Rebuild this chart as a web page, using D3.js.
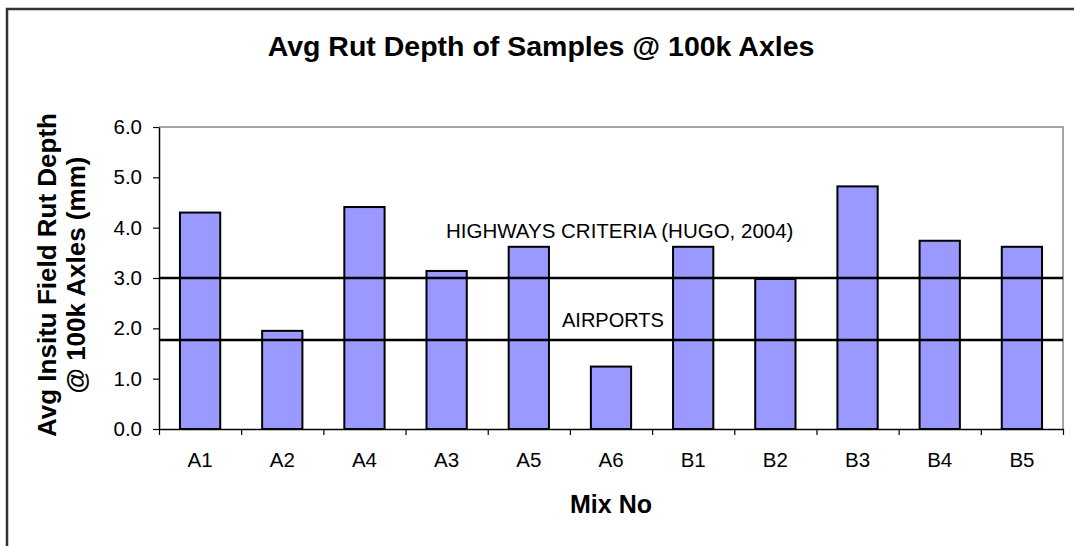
<!DOCTYPE html>
<html>
<head>
<meta charset="utf-8">
<script src="https://cdn.jsdelivr.net/npm/d3@7"></script>
<style>
  body { margin: 0; background: #fff; }
  svg { display: block; font-family: Arial, "Liberation Sans", sans-serif; }
</style>
</head>
<body>
<svg width="1074" height="546"></svg>
<script>
let categories = ["A1", "A2", "A4", "A3", "A5", "A6", "B1", "B2", "B3", "B4", "B5"];
let rutDepth = [4.30, 1.95, 4.41, 3.14, 3.62, 1.24, 3.62, 2.98, 4.82, 3.74, 3.62];
let yTicks = [0, 1, 2, 3, 4, 5, 6];
let criteria = [
  {label: "HIGHWAYS CRITERIA (HUGO, 2004)", value: 3.0},
  {label: "AIRPORTS", value: 1.77}
];

let svg = d3.select("svg");
let plotLeft = 159, plotRight = 1063, plotTop = 127, plotBottom = 429;

// chart border
svg.append("rect")
  .attr("x", 7).attr("y", 9)
  .attr("width", 1200).attr("height", 700)
  .attr("fill", "none")
  .attr("stroke", "#333")
  .attr("stroke-width", 2.5);

let x = d3.scaleBand()
  .domain(categories)
  .range([plotLeft, plotRight])
  .paddingInner(0.51)
  .paddingOuter(0.255);

let xLab = d3.scaleBand().domain(categories).range([plotLeft, plotRight]);
let xTick = d3.scaleLinear().domain([0, categories.length]).range([plotLeft, plotRight]);

let y = d3.scaleLinear().domain([0, 6]).range([plotBottom, plotTop]);

// plot area frame (top & right in grey)
svg.append("path")
  .attr("d", `M${plotLeft},${plotTop}H${plotRight}V${plotBottom}`)
  .attr("fill", "none")
  .attr("stroke", "#888")
  .attr("stroke-width", 1.5);

// bars
svg.append("g").selectAll("rect")
  .data(rutDepth)
  .join("rect")
    .attr("x", (d, i) => x(categories[i]))
    .attr("y", d => y(d))
    .attr("width", x.bandwidth())
    .attr("height", d => y(0) - y(d))
    .attr("fill", "#9999ff")
    .attr("stroke", "#000")
    .attr("stroke-width", 2);

// criteria lines
svg.append("g").selectAll("line")
  .data(criteria)
  .join("line")
    .attr("x1", plotLeft).attr("x2", plotRight)
    .attr("y1", d => y(d.value)).attr("y2", d => y(d.value))
    .attr("stroke", "#000")
    .attr("stroke-width", 2.5);

svg.append("text")
  .attr("x", 446).attr("y", 238)
  .attr("font-size", 20.5)
  .text(criteria[0].label);
svg.append("text")
  .attr("x", 562).attr("y", 327)
  .attr("font-size", 20)
  .text(criteria[1].label);

// y axis
let yAxis = svg.append("g")
  .attr("transform", `translate(${plotLeft},0)`)
  .call(d3.axisLeft(y).tickValues(yTicks).tickFormat(d3.format(".1f")).tickSize(6).tickPadding(11).tickSizeOuter(0));
yAxis.selectAll("text").attr("font-size", 20.5).attr("fill", "#000").attr("font-family", "Arial, 'Liberation Sans', sans-serif");
yAxis.select(".domain").attr("stroke", "#000").attr("stroke-width", 1.5);
yAxis.selectAll(".tick line").attr("stroke", "#000").attr("stroke-width", 1.2);

// x axis ticks at category boundaries
let xAxis = svg.append("g")
  .attr("transform", `translate(0,${plotBottom})`)
  .call(d3.axisBottom(xTick).tickValues(d3.range(categories.length + 1)).tickFormat("").tickSize(6).tickSizeOuter(0));
xAxis.select(".domain").attr("stroke", "#000").attr("stroke-width", 1.5);
xAxis.selectAll(".tick line").attr("stroke", "#000").attr("stroke-width", 1.2);

// x labels
let xLabels = svg.append("g")
  .attr("transform", `translate(0,${plotBottom})`)
  .call(d3.axisBottom(xLab).tickSize(0).tickPadding(0));
xLabels.select(".domain").remove();
xLabels.selectAll("text")
  .attr("y", 38).attr("dy", null)
  .attr("font-size", 20.5).attr("fill", "#000")
  .attr("font-family", "Arial, 'Liberation Sans', sans-serif");

// titles
svg.append("text")
  .attr("x", 541).attr("y", 56)
  .attr("text-anchor", "middle")
  .attr("font-size", 28.5).attr("font-weight", "bold")
  .text("Avg Rut Depth of Samples @ 100k Axles");

svg.append("text")
  .attr("x", (plotLeft + plotRight) / 2).attr("y", 513)
  .attr("text-anchor", "middle")
  .attr("font-size", 25).attr("font-weight", "bold")
  .text("Mix No");

let yTitle = svg.append("text")
  .attr("transform", "translate(0,275) rotate(-90)")
  .attr("text-anchor", "middle")
  .attr("font-size", 26).attr("font-weight", "bold");
yTitle.append("tspan").attr("x", 0).attr("y", 56).text("Avg Insitu Field Rut Depth");
yTitle.append("tspan").attr("x", 0).attr("y", 85).text("@ 100k Axles (mm)");
</script>
</body>
</html>
